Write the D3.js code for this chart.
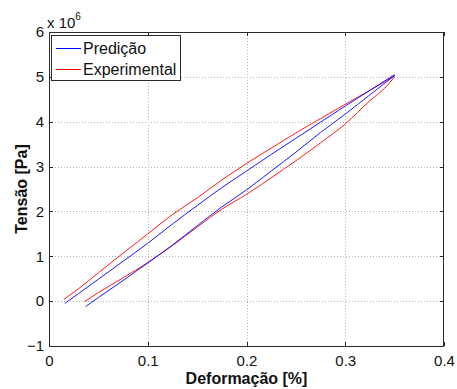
<!DOCTYPE html>
<html>
<head>
<meta charset="utf-8">
<script src="https://cdn.jsdelivr.net/npm/d3@7"></script>
<style>
  html, body { margin: 0; padding: 0; background: #fff; }
  svg { display: block; font-family: "Liberation Sans", Arial, sans-serif; }
</style>
</head>
<body>
<svg id="chart" width="457" height="389"></svg>
<script>
// Stress (Pa, in units of 1e6) against strain (%) for a loading/unloading loop.
const predLoadX   = [0.037, 0.05, 0.075, 0.1, 0.125, 0.15, 0.175, 0.2, 0.225, 0.25, 0.275, 0.3, 0.325, 0.35];
const predLoadY   = [-0.12, 0.08, 0.46, 0.85, 1.25, 1.68, 2.10, 2.48, 2.90, 3.32, 3.76, 4.17, 4.60, 5.03];
const predUnloadX = [0.016, 0.03, 0.05, 0.075, 0.1, 0.125, 0.15, 0.175, 0.2, 0.225, 0.25, 0.275, 0.3, 0.325, 0.35];
const predUnloadY = [-0.05, 0.17, 0.49, 0.89, 1.29, 1.72, 2.13, 2.53, 2.90, 3.27, 3.63, 3.99, 4.35, 4.70, 5.05];

const expLoadX    = [0.036, 0.05, 0.075, 0.1, 0.125, 0.15, 0.175, 0.2, 0.225, 0.25, 0.275, 0.3, 0.325, 0.34, 0.35];
const expLoadY    = [-0.01, 0.19, 0.52, 0.86, 1.24, 1.65, 2.05, 2.38, 2.75, 3.13, 3.53, 3.95, 4.47, 4.75, 5.00];
const expUnloadX  = [0.015, 0.03, 0.05, 0.075, 0.1, 0.125, 0.15, 0.175, 0.2, 0.225, 0.25, 0.275, 0.3, 0.325, 0.35];
const expUnloadY  = [0.04, 0.28, 0.63, 1.07, 1.50, 1.93, 2.30, 2.70, 3.07, 3.41, 3.75, 4.07, 4.39, 4.70, 5.02];

const xTicks = [0, 0.1, 0.2, 0.3, 0.4];
const yTicks = [-1, 0, 1, 2, 3, 4, 5, 6];
const seriesNames = ["Predição", "Experimental"];
const seriesColors = ["#0000ff", "#ff0000"];

const svg = d3.select("#chart");
const plotL = 49, plotR = 444, plotT = 32, plotB = 346;

const x = d3.scaleLinear().domain([0, 0.4]).range([plotL, plotR]);
const y = d3.scaleLinear().domain([-1, 6]).range([plotB, plotT]);

// dotted grid
const grid = svg.append("g").attr("stroke", "#b4b4b4").attr("stroke-width", 1)
  .attr("stroke-dasharray", "1,2").attr("shape-rendering", "crispEdges");
xTicks.slice(1, -1).forEach(t => {
  grid.append("line").attr("x1", Math.round(x(t)) + 0.5).attr("x2", Math.round(x(t)) + 0.5)
    .attr("y1", plotT).attr("y2", plotB);
});
yTicks.slice(1, -1).forEach(t => {
  grid.append("line").attr("y1", Math.round(y(t)) + 0.5).attr("y2", Math.round(y(t)) + 0.5)
    .attr("x1", plotL).attr("x2", plotR);
});

// curves
const line = d3.line().x(d => x(d[0])).y(d => y(d[1])).curve(d3.curveMonotoneX);
const zip = (a, b) => a.map((v, i) => [v, b[i]]);
const curves = [
  { pts: zip(expLoadX, expLoadY), c: seriesColors[1] },
  { pts: zip(expUnloadX, expUnloadY), c: seriesColors[1] },
  { pts: zip(predLoadX, predLoadY), c: seriesColors[0] },
  { pts: zip(predUnloadX, predUnloadY), c: seriesColors[0] }
];
svg.append("g").selectAll("path").data(curves).join("path")
  .attr("d", d => line(d.pts)).attr("fill", "none")
  .attr("stroke", d => d.c).attr("stroke-width", 0.9);

// axes with inward ticks
const axisColor = "#2a2a2a";
const xAxis = svg.append("g").attr("transform", `translate(0,${plotB})`)
  .call(d3.axisBottom(x).tickValues(xTicks).tickSizeInner(-4).tickSizeOuter(0).tickPadding(9)
    .tickFormat(d => d === 0 ? "0" : d3.format(".1f")(d)));
const yAxis = svg.append("g").attr("transform", `translate(${plotL},0)`)
  .call(d3.axisLeft(y).tickValues(yTicks).tickSizeInner(-4).tickSizeOuter(0).tickPadding(5)
    .tickFormat(d3.format("d")));
const xAxisTop = svg.append("g").attr("transform", `translate(0,${plotT})`)
  .call(d3.axisTop(x).tickValues(xTicks).tickSizeInner(-4).tickSizeOuter(0).tickFormat(""));
const yAxisRight = svg.append("g").attr("transform", `translate(${plotR},0)`)
  .call(d3.axisRight(y).tickValues(yTicks).tickSizeInner(-4).tickSizeOuter(0).tickFormat(""));
[xAxis, yAxis, xAxisTop, yAxisRight].forEach(g => {
  g.select(".domain").remove();
  g.selectAll("line").attr("stroke", axisColor).attr("shape-rendering", "crispEdges");
  g.selectAll("text").attr("fill", "#111").attr("font-size", 15)
    .attr("font-family", "Liberation Sans, Arial, sans-serif");
});
svg.append("rect").attr("x", plotL + 0.5).attr("y", plotT + 0.5)
  .attr("width", plotR - plotL - 1).attr("height", plotB - plotT)
  .attr("fill", "none").attr("stroke", axisColor).attr("stroke-width", 1)
  .attr("shape-rendering", "crispEdges");

// exponent label
const exp = svg.append("text").attr("x", 47).attr("y", 28).attr("font-size", 15).attr("fill", "#111");
exp.append("tspan").text("x 10");
exp.append("tspan").attr("dy", -8).attr("font-size", 10).text("6");

// axis titles
svg.append("text").attr("x", (plotL + plotR) / 2).attr("y", 384).attr("text-anchor", "middle")
  .attr("font-size", 16).attr("font-weight", "bold").attr("fill", "#111").text("Deformação [%]");
svg.append("text").attr("transform", `translate(27,${(plotT + plotB) / 2}) rotate(-90)`)
  .attr("text-anchor", "middle").attr("font-size", 16).attr("font-weight", "bold")
  .attr("fill", "#111").text("Tensão [Pa]");

// legend
const lg = svg.append("g");
lg.append("rect").attr("x", 51.5).attr("y", 35.5).attr("width", 129).attr("height", 45)
  .attr("fill", "#fff").attr("stroke", axisColor).attr("shape-rendering", "crispEdges");
seriesNames.forEach((name, i) => {
  const yy = 48 + i * 21;
  lg.append("line").attr("x1", 56).attr("x2", 81).attr("y1", yy + 0.5).attr("y2", yy + 0.5)
    .attr("stroke", seriesColors[i]).attr("stroke-width", 1);
  lg.append("text").attr("x", 83).attr("y", yy + 5.5).attr("font-size", 16).attr("fill", "#111").text(name);
});
</script>
</body>
</html>
